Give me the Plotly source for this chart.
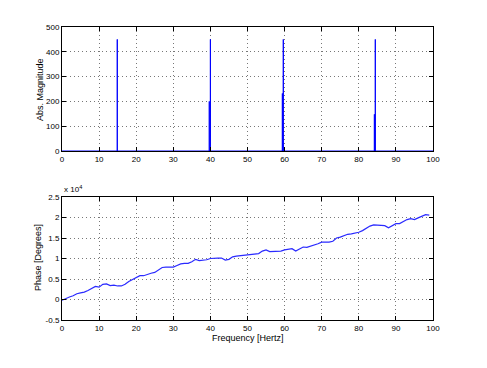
import plotly.graph_objects as go

# ---- data ----
spike_freq = [14.9, 15.1, 39.7, 40.0, 59.4, 59.65, 84.2, 84.45]
spike_mag = [450, 192, 200, 450, 232, 450, 148, 450]

phase_freq = list(range(0, 100))
phase_e4 = [-0.02, 0.03, 0.06, 0.09, 0.14, 0.16, 0.18, 0.22, 0.28, 0.32,
            0.30, 0.37, 0.38, 0.34, 0.35, 0.33, 0.33, 0.37, 0.44, 0.49,
            0.54, 0.58, 0.58, 0.62, 0.64, 0.66, 0.72, 0.78, 0.79, 0.79,
            0.79, 0.83, 0.87, 0.88, 0.88, 0.92, 0.98, 0.95, 0.96, 0.97,
            1.00, 1.01, 1.01, 1.01, 0.96, 0.98, 1.04, 1.06, 1.07, 1.08,
            1.08, 1.09, 1.10, 1.12, 1.18, 1.21, 1.17, 1.17, 1.17, 1.18,
            1.21, 1.22, 1.24, 1.18, 1.24, 1.28, 1.27, 1.30, 1.32, 1.36,
            1.40, 1.40, 1.40, 1.42, 1.50, 1.52, 1.55, 1.59, 1.60, 1.62,
            1.64, 1.68, 1.74, 1.79, 1.82, 1.81, 1.80, 1.80, 1.75, 1.79,
            1.85, 1.85, 1.91, 1.95, 1.97, 1.95, 1.99, 2.03, 2.07, 2.06]

x_ticks = [0, 10, 20, 30, 40, 50, 60, 70, 80, 90, 100]
mag_ticks = [0, 100, 200, 300, 400, 500]
phase_ticks = [-0.5, 0, 0.5, 1, 1.5, 2, 2.5]
phase_tick_text = ["-0.5", "0", "0.5", "1", "1.5", "2", "2.5"]

# build magnitude line: zero baseline with vertical spikes
order = sorted(range(len(spike_freq)), key=lambda i: spike_freq[i])
mx, my = [0], [0]
for i in order:
    f = spike_freq[i]
    mx += [f, f, f]
    my += [0, spike_mag[i], 0]
mx.append(100)
my.append(0)

# page body has an 8px margin: shift everything by -8 px
OFF = 8
W, H = 487 - OFF, 368 - OFF
L, R = 62 - OFF, 433 - OFF
top_t, top_b = 27 - OFF, 151 - OFF
bot_t, bot_b = 197 - OFF, 320 - OFF


def px(x):
    return (x - OFF) / W


def py(y):
    return 1 - (y - OFF) / H


fig = go.Figure()
fig.add_trace(go.Scatter(x=mx, y=my, mode="lines",
                         line=dict(color="#0000ff", width=1),
                         xaxis="x", yaxis="y", showlegend=False))
fig.add_trace(go.Scatter(x=phase_freq, y=phase_e4, mode="lines",
                         line=dict(color="#2a2aff", width=1.2),
                         xaxis="x2", yaxis="y2", showlegend=False))

font = dict(family="Liberation Sans, Arial, sans-serif", size=8, color="black")
axcommon = dict(showline=True, linecolor="black", linewidth=1, mirror="ticks",
                ticks="inside", ticklen=4, tickcolor="black",
                showgrid=True, gridcolor="#777777", griddash="1px,3px", gridwidth=1,
                zeroline=False, tickfont=font, automargin=False)

fig.update_layout(
    width=W, height=H,
    margin=dict(l=0, r=0, t=0, b=0),
    paper_bgcolor="white", plot_bgcolor="white",
    xaxis=dict(domain=[L / W, R / W], range=[0, 100], tickvals=x_ticks,
               anchor="y", **axcommon),
    yaxis=dict(domain=[1 - top_b / H, 1 - top_t / H], range=[0, 500],
               tickvals=mag_ticks, anchor="x", **axcommon),
    xaxis2=dict(domain=[L / W, R / W], range=[0, 100], tickvals=x_ticks,
                anchor="y2", **axcommon),
    yaxis2=dict(domain=[1 - bot_b / H, 1 - bot_t / H], range=[-0.5, 2.5],
                tickvals=phase_ticks, ticktext=phase_tick_text,
                anchor="x2", **axcommon),
)

lab = dict(family="Liberation Sans, Arial, sans-serif", size=9, color="black")
fig.add_annotation(x=px(40), y=py(89), xref="paper", yref="paper",
                   text="Abs. Magnitude", textangle=-90, showarrow=False,
                   font=lab, xanchor="center", yanchor="middle")
fig.add_annotation(x=px(38), y=py(258), xref="paper", yref="paper",
                   text="Phase [Degrees]", textangle=-90, showarrow=False,
                   font=lab, xanchor="center", yanchor="middle")
fig.add_annotation(x=px((62 + 433) / 2), y=py(338), xref="paper", yref="paper",
                   text="Frequency [Hertz]", showarrow=False,
                   font=lab, xanchor="center", yanchor="middle")
fig.add_annotation(x=px(62), y=py(189), xref="paper", yref="paper",
                   text="x 10<sup>4</sup>", showarrow=False,
                   font=dict(family="Liberation Sans, Arial, sans-serif", size=8, color="black"),
                   xanchor="left", yanchor="middle")

fig.write_html("out.html")
